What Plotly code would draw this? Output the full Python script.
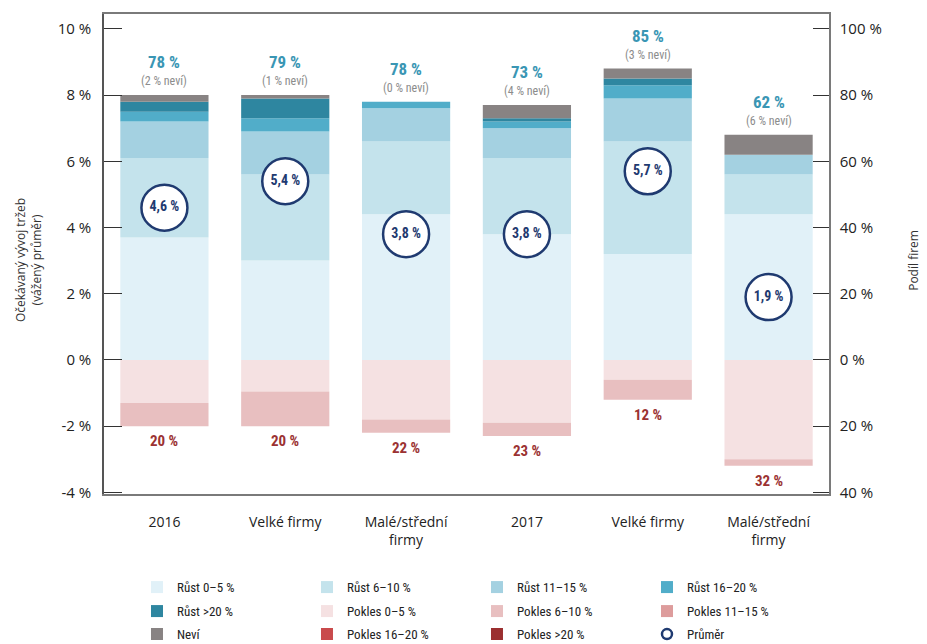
import plotly.graph_objects as go

# ---------------- data ----------------
categories = ["2016", "Velké firmy", "Malé/střední<br>firmy", "2017", "Velké firmy", "Malé/střední<br>firmy"]
rust_0_5 = [37, 30, 44, 38, 32, 44]
rust_6_10 = [24, 26, 22, 23, 34, 12]
rust_11_15 = [11, 13, 10, 9, 13, 6]
rust_16_20 = [3, 4, 2, 2, 4, 0]
rust_nad_20 = [3, 6, 0, 1, 2, 0]
nevi = [2, 1, 0, 4, 3, 6]
pokles_0_5 = [13, 9.5, 18, 19, 6, 30]
pokles_6_10 = [7, 10.5, 4, 4, 6, 2]
pokles_11_15 = [0, 0, 0, 0, 0, 0]
pokles_16_20 = [0, 0, 0, 0, 0, 0]
pokles_nad_20 = [0, 0, 0, 0, 0, 0]
prumer = [4.6, 5.4, 3.8, 3.8, 5.7, 1.9]
rust_celkem = [78, 79, 78, 73, 85, 62]
pokles_celkem = [20, 20, 22, 23, 12, 32]

left_ticks = [-4, -2, 0, 2, 4, 6, 8, 10]
right_ticks = [-40, -20, 0, 20, 40, 60, 80, 100]

# ---------------- style ----------------
NARROW = "Liberation Sans Narrow, Roboto Condensed, Arial Narrow, Roboto, sans-serif"
TICKF = "Open Sans, Noto Sans, sans-serif"
NAVY = "#1f3a70"
x = list(range(len(categories)))
YMIN, YMAX = -4.05, 10.45
zero_pos = (0 - YMIN) / (YMAX - YMIN)

fig = go.Figure()

pos_series = [
    ("Růst 0–5 %", rust_0_5, "#e1f1f8", "legend"),
    ("Růst 6–10 %", rust_6_10, "#c4e3ec", "legend"),
    ("Růst 11–15 %", rust_11_15, "#a4d1e1", "legend"),
    ("Růst 16–20 %", rust_16_20, "#51adc9", "legend"),
    ("Růst >20 %", rust_nad_20, "#2e86a0", "legend2"),
]
neg_series = [
    ("Pokles 0–5 %", pokles_0_5, "#f5e1e2", "legend2"),
    ("Pokles 6–10 %", pokles_6_10, "#e8bfc0", "legend2"),
    ("Pokles 11–15 %", pokles_11_15, "#dd9c9c", "legend2"),
    ("Pokles 16–20 %", pokles_16_20, "#c94a4c", "legend3"),
    ("Pokles >20 %", pokles_nad_20, "#9b2f30", "legend3"),
]

for name, vals, col, lg in pos_series:
    fig.add_trace(go.Bar(x=x, y=[v / 10 for v in vals], name=name, marker=dict(color=col, line=dict(width=0)),
                         width=0.73, legend=lg, hoverinfo="skip"))
fig.add_trace(go.Bar(x=x, y=[v / 10 for v in nevi], name="Neví", marker=dict(color="#888383", line=dict(width=0)),
                     width=0.73, legend="legend3", hoverinfo="skip"))
for name, vals, col, lg in neg_series:
    fig.add_trace(go.Bar(x=x, y=[-v / 10 for v in vals], name=name, marker=dict(color=col, line=dict(width=0)),
                         width=0.73, legend=lg, hoverinfo="skip"))

# average circles
fig.add_trace(go.Scatter(
    x=x, y=prumer, mode="markers+text",
    text=[f"<b>{str(v).replace('.', ',')} %</b>" for v in prumer],
    textposition="middle center",
    textfont=dict(family=NARROW, size=14, color=NAVY),
    marker=dict(size=46, color="white", line=dict(color=NAVY, width=2.5)),
    showlegend=False, hoverinfo="skip"))
fig.add_trace(go.Scatter(x=[None], y=[None], mode="markers", name="Průměr",
                         marker=dict(size=10, color="white", line=dict(color=NAVY, width=2.5)),
                         legend="legend3"))

# a dummy trace on the right axis so it renders
fig.add_trace(go.Scatter(x=[None], y=[None], yaxis="y2", showlegend=False, hoverinfo="skip"))

annotations = []
for i in x:
    top = (rust_celkem[i] + nevi[i]) / 10
    annotations.append(dict(x=i, y=top, xref="x", yref="y", text=f"<b>{rust_celkem[i]} %</b>",
                            showarrow=False, yshift=33, yanchor="middle",
                            font=dict(family=NARROW, size=17, color="#3a96b4")))
    annotations.append(dict(x=i, y=top, xref="x", yref="y", text=f"({nevi[i]} % neví)",
                            showarrow=False, yshift=14, yanchor="middle",
                            font=dict(family=NARROW, size=12, color="#8c8c8c")))
    bottom = -pokles_celkem[i] / 10
    annotations.append(dict(x=i, y=bottom, xref="x", yref="y", text=f"<b>{pokles_celkem[i]} %</b>",
                            showarrow=False, yshift=-15, yanchor="middle",
                            font=dict(family=NARROW, size=15, color="#9b3232")))

annotations.append(dict(x=-0.1034, y=0.4875, xref="paper", yref="paper", textangle=-90,
                        xanchor="center", yanchor="middle",
                        text="Očekávaný vývoj tržeb<br>(vážený průměr)", showarrow=False,
                        font=dict(family=TICKF, size=12, color="#333333")))
annotations.append(dict(x=1.117, y=0.4875, xref="paper", yref="paper", textangle=-90,
                        xanchor="center", yanchor="middle",
                        text="Podíl firem", showarrow=False,
                        font=dict(family=TICKF, size=12, color="#333333")))

legend_common = dict(orientation="h", xanchor="left", yanchor="middle", x=0.0455,
                     entrywidth=125, entrywidthmode="pixels",
                     font=dict(family=NARROW, size=13, color="#222222"),
                     bgcolor="rgba(0,0,0,0)", itemclick=False, itemdoubleclick=False)

# page body has an 8 px default margin -> figure is 8 px smaller, plot placed to match
fig.update_layout(
    width=919, height=636,
    margin=dict(l=96, r=98, t=6, b=150, autoexpand=False),
    paper_bgcolor="white", plot_bgcolor="white",
    barmode="relative", bargap=0.27,
    showlegend=True,
    legend=dict(legend_common, y=-0.194),
    legend2=dict(legend_common, y=-0.244),
    legend3=dict(legend_common, y=-0.292),
    xaxis=dict(range=[-0.5, 5.5], tickmode="array", tickvals=x, ticktext=categories,
               showline=True, mirror=True, linecolor="#7a7a7a", linewidth=1.5,
               ticks="", showgrid=False, zeroline=False, ticklabelstandoff=14,
               tickfont=dict(family=TICKF, size=14, color="#222222")),
    xaxis2=dict(overlaying="x", anchor="free", position=zero_pos, range=[-0.5, 5.5],
                tickmode="array", tickvals=[0.5, 1.5, 2.5, 3.5, 4.5], ticks="inside", ticklen=10,
                tickcolor="#333333", tickwidth=1.3, showticklabels=False, showline=True,
                linecolor="#333333", linewidth=1.3, showgrid=False, zeroline=False),
    yaxis=dict(range=[YMIN, YMAX], tickmode="array", tickvals=left_ticks,
               ticktext=[f"{v} %" for v in left_ticks], ticks="inside", ticklen=18,
               tickcolor="#333333", tickwidth=1.3, showline=True, linecolor="#555555", linewidth=1.5,
               showgrid=False, zeroline=False, ticklabelstandoff=8,
               tickfont=dict(family=TICKF, size=15, color="#222222")),
    yaxis2=dict(overlaying="y", side="right", range=[YMIN * 10, YMAX * 10], tickmode="array",
                tickvals=right_ticks, ticktext=[f"{abs(v)} %" for v in right_ticks],
                ticks="inside", ticklen=16, tickcolor="#333333", tickwidth=1.3,
                showline=True, linecolor="#7a7a7a", linewidth=1.5, showgrid=False, zeroline=False,
                ticklabelstandoff=6, tickfont=dict(family=TICKF, size=15, color="#222222")),
    annotations=annotations,
)

fig.write_html("out.html")
